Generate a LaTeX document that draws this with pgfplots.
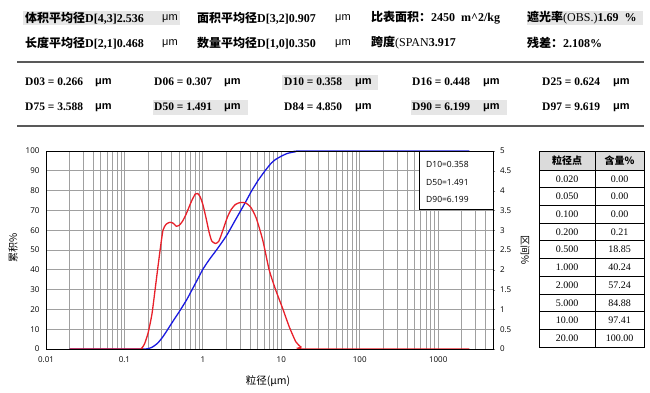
\documentclass[border=0pt]{standalone}
\usepackage{fontspec}
\setmainfont{Liberation Serif}
\setsansfont{Liberation Sans}
\newfontfamily\cjk{Noto Sans CJK SC}
\newfontfamily\chartfont{Open Sans}
\usepackage{pgfplots}
\pgfplotsset{compat=1.18}
\definecolor{hl}{HTML}{E6E6E6}
\definecolor{gridc}{HTML}{A0A0A0}
\definecolor{cred}{HTML}{E8202A}
\definecolor{cblue}{HTML}{1A1AE0}
\newcommand{\um}{{\sffamily\fontsize{11}{12}\selectfont μm}}
\newcommand{\cb}[1]{{\cjk\bfseries #1}}
\begin{document}
\begin{tikzpicture}
\path[use as bounding box] (0pt,0pt) rectangle (650pt,-392pt);
\begin{scope}[x=1pt,y=-1pt]
% highlights
\fill[hl] (23,11) rectangle (180,25);
\fill[hl] (527,11) rectangle (643,25);
\fill[hl] (282,75) rectangle (378,90);
\fill[hl] (153,100) rectangle (248,115);
\fill[hl] (411,100) rectangle (507,115);
% rules
\draw[line width=1.5pt,black!65] (17,62) -- (644,62);
\draw[line width=1.5pt,black!65] (17,126) -- (644,126);
\begin{scope}[every node/.style={anchor=west,inner sep=0pt,font=\fontsize{12}{13}\selectfont}]
\node at (25,18) {\cb{体积平均径}\textbf{D[4,3]2.536}};
\node at (162,18.5) {\um};
\node at (197,18) {\cb{面积平均径}\textbf{D[3,2]0.907}};
\node at (335,18.5) {\um};
\node at (371,18) {\cb{比表面积：}\textbf{2450\enspace m\textasciicircum2/kg}};
\node at (527,18) {\cb{遮光率}(OBS.)\textbf{1.69}\enspace\textbf{\%}};
\node at (25,43) {\cb{长度平均径}\textbf{D[2,1]0.468}};
\node at (162,43.5) {\um};
\node at (197,43) {\cb{数量平均径}\textbf{D[1,0]0.350}};
\node at (335,43.5) {\um};
\node at (371,43) {\cb{跨度}(SPAN\textbf{3.917}};
\node at (527,43) {\cb{残差：}\textbf{2.108\%}};
\end{scope}
\begin{scope}[every node/.style={anchor=west,inner sep=0pt,font=\fontsize{11.5}{13}\selectfont\bfseries}]
\node at (25,82) {D03 = 0.266};   \node at (95,82.5) {\um};
\node at (154,82) {D06 = 0.307};  \node at (224,82.5) {\um};
\node at (284,82) {D10 = 0.358};  \node at (355,82.5) {\um};
\node at (412,82) {D16 = 0.448};  \node at (483,82.5) {\um};
\node at (542,82) {D25 = 0.624};  \node at (613,82.5) {\um};
\node at (25,107) {D75 = 3.588};  \node at (95,107.5) {\um};
\node at (154,107) {D50 = 1.491}; \node at (224,107.5) {\um};
\node at (284,107) {D84 = 4.850}; \node at (355,107.5) {\um};
\node at (412,107) {D90 = 6.199}; \node at (483,107.5) {\um};
\node at (542,107) {D97 = 9.619}; \node at (613,107.5) {\um};
\end{scope}
% chart grid (log x: 78.435 pt per decade from 0.01 at x=46)
\foreach \v in {0.02,0.03,0.04,0.05,0.06,0.07,0.08,0.09,0.1,
    0.2,0.3,0.4,0.5,0.6,0.7,0.8,0.9,1,2,3,4,5,6,7,8,9,10,
    20,30,40,50,60,70,80,90,100,200,300,400,500,600,700,800,900,1000,
    2000,3000,4000} {
  \pgfmathsetmacro{\xx}{46+(log10(\v)+2)*78.435}
  \draw[gridc, line width=0.8pt] (\xx,151) -- (\xx,349);
}
\foreach \k in {1,...,9} {
  \draw[gridc, line width=0.8pt] (46,{349-\k*19.8}) -- (493,{349-\k*19.8});
}
\end{scope}

\begin{axis}[at={(46pt,-349pt)}, anchor=south west, scale only axis,
  width=447pt, height=198pt,
  xmode=log, log basis x=10, xmin=0.01, xmax=5000, ymin=0, ymax=100,
  xtick={0.01,0.1,1,10,100,1000}, xticklabels={0.01,0.1,1,10,100,1000},
  ytick={0,10,20,30,40,50,60,70,80,90,100},
  axis line style={black, line width=0.8pt},
  major tick length=0pt, minor tick length=0pt,
  ticklabel style={font=\chartfont\fontsize{8}{9}\selectfont},
  /pgf/number format/assume math mode=true,
  xticklabel style={yshift=-4.5pt},
  yticklabel style={xshift=-3pt},
  clip=false]
\addplot[cblue, line width=1.3pt, smooth, tension=0.35] coordinates {
(0.02,0) (0.17,0) (0.19,0.05) (0.2,0.21) (0.22,0.7) (0.24,1.6) (0.266,3) (0.307,6)
(0.358,10) (0.4,13) (0.448,16) (0.5,18.85) (0.624,25) (0.8,33) (1,40.24) (1.2,45)
(1.491,50) (2,57.24) (2.5,64) (3,69.5) (3.588,75) (4.2,80) (4.85,84) (5,84.88)
(6.199,90) (7.5,94) (8.5,95.8) (9.619,97) (10,97.41) (12,98.8) (15,99.6) (20,100) (2500,100)};
\end{axis}
\begin{axis}[at={(46pt,-349pt)}, anchor=south west, scale only axis,
  width=447pt, height=198pt,
  xmode=log, log basis x=10, xmin=0.01, xmax=5000, ymin=0, ymax=5,
  axis y line*=right, axis x line=none,
  axis line style={black, line width=0.8pt, -},
  ytick={0,0.5,1,1.5,2,2.5,3,3.5,4,4.5,5},
  yticklabels={0,0.5,1,1.5,2,2.5,3,3.5,4,4.5,5},
  major tick length=2.5pt, tick align=outside,
  ticklabel style={font=\chartfont\fontsize{8}{9}\selectfont},
  yticklabel style={xshift=1pt},
  /pgf/number format/assume math mode=true]
\addplot[cred, line width=1.3pt, smooth, tension=0.35] coordinates {
(0.02,0) (0.15,0) (0.165,0.015) (0.18,0.125) (0.2,0.40) (0.225,0.9) (0.255,1.75)
(0.285,2.5) (0.31,3.0) (0.34,3.15) (0.38,3.2) (0.42,3.175) (0.458,3.1) (0.5,3.125)
(0.55,3.225) (0.61,3.4) (0.71,3.715) (0.80,3.915) (0.86,3.925) (0.92,3.85) (1.0,3.65)
(1.1,3.3) (1.2,2.95) (1.3,2.725) (1.45,2.665) (1.6,2.725) (1.8,3.0) (2.05,3.325)
(2.3,3.525) (2.6,3.65) (3.0,3.7) (3.5,3.69) (4.1,3.575) (4.8,3.3) (5.8,2.75) (7.0,2.0)
(8.5,1.485) (10.4,1.025) (12.6,0.565) (15.3,0.185) (17.8,0.05) (20.6,0) (2500,0)};
\end{axis}

\begin{scope}[x=1pt,y=-1pt]
% frame
\draw[black, line width=0.8pt] (46,151) rectangle (493,349);
% legend box
\draw[fill=white, line width=0.6pt] (419,151) rectangle (493,209);
\begin{scope}[every node/.style={anchor=west,inner sep=0pt,font=\chartfont\fontsize{8.5}{9}\selectfont}]
\node at (426,164) {D10=0.358};
\node at (426,182) {D50=1.491};
\node at (426,199) {D90=6.199};
\end{scope}
% axis labels
\node[rotate=90, font=\cjk\fontsize{10}{11}\selectfont] at (13,248) {累积\%};
\node[rotate=-90, font=\cjk\fontsize{10}{11}\selectfont] at (525,250) {区间\%};
\node[font=\cjk\fontsize{10.5}{11}\selectfont] at (268,381) {粒径(μm)};
% table
\fill[black!14] (539,151) rectangle (644,170);
\foreach \i in {1,...,9} {\draw[line width=0.7pt] (539,{170+\i*17.7}) -- (644,{170+\i*17.7});}
\draw[line width=0.9pt] (539,170) -- (644,170);
\draw[line width=0.9pt] (595,151) -- (595,347);
\draw[line width=1pt] (539,151) rectangle (644,347);
\node[font=\cjk\bfseries\fontsize{10}{11}\selectfont] at (567,160.5) {粒径点};
\node[font=\cjk\bfseries\fontsize{10}{11}\selectfont] at (619.5,160.5) {含量\%};
\foreach \a/\b [count=\k from 0] in {0.020/0.00,0.050/0.00,0.100/0.00,0.200/0.21,0.500/18.85,1.000/40.24,2.000/57.24,5.000/84.88,10.00/97.41,20.00/100.00} {
  \node[font=\fontsize{10}{11}\selectfont] at (567,{178.85+\k*17.7}) {\a};
  \node[font=\fontsize{10}{11}\selectfont] at (619.5,{178.85+\k*17.7}) {\b};
}
\end{scope}
\end{tikzpicture}
\end{document}
